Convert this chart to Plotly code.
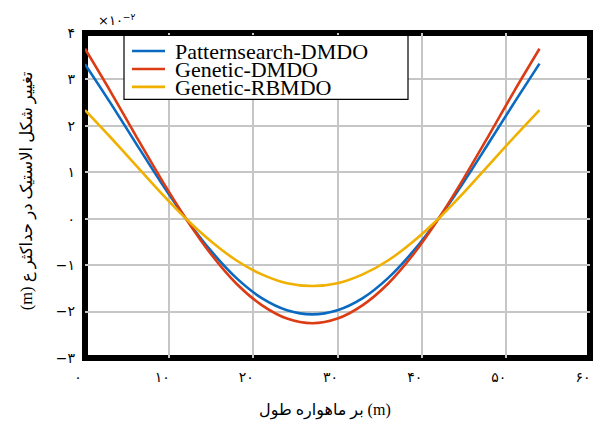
import plotly.graph_objects as go

# ---- data (values in units of 1e-2 m) ----
x_m = [0, 3, 6, 9, 12, 15, 18, 21, 24, 27, 30, 33, 36, 39, 42, 45, 48, 51, 54]
series_names = ["Patternsearch-DMDO", "Genetic-DMDO", "Genetic-RBMDO"]
patternsearch_dmdo = [3.33, 2.50, 1.64, 0.79, 0.00, -0.70, -1.28, -1.71, -1.97, -2.06,
                      -1.97, -1.71, -1.28, -0.70, 0.00, 0.79, 1.64, 2.50, 3.34]
genetic_dmdo = [3.66, 2.75, 1.80, 0.87, 0.00, -0.77, -1.40, -1.86, -2.15, -2.25,
                -2.15, -1.86, -1.40, -0.77, 0.00, 0.87, 1.80, 2.75, 3.66]
genetic_rbmdo = [2.34, 1.76, 1.16, 0.56, 0.00, -0.49, -0.90, -1.20, -1.39, -1.45,
                 -1.39, -1.20, -0.90, -0.49, 0.00, 0.56, 1.16, 1.76, 2.34]
x_ticks = [0, 10, 20, 30, 40, 50, 60]
x_tick_labels = ["۰", "۱۰", "۲۰", "۳۰", "۴۰", "۵۰", "۶۰"]
y_ticks = [-3, -2, -1, 0, 1, 2, 3, 4]
y_tick_labels = ["−۳", "−۲", "−۱", "۰", "۱", "۲", "۳", "۴"]
x_title = "\u200eبر ماهواره طول (m)"
y_title = "(m) تغییر شکل الاستیک در حداکثر ع"
exponent_label = "×۱۰<sup>−۲</sup>"

colors = ["#0a69c0", "#dc3c14", "#f0b000"]

# ---- geometry (pixels) ----
W, H = 593, 423
L, R, T, B = 85, 590, 32.5, 358


def px(xp):
    return (xp - L) / (R - L)


def py(yp):
    return (B - yp) / (B - T)


fig = go.Figure()
for name, ys, c in zip(series_names, [patternsearch_dmdo, genetic_dmdo, genetic_rbmdo], colors):
    fig.add_trace(go.Scatter(x=x_m, y=ys, mode="lines", name=name, showlegend=False,
                             line=dict(color=c, width=2.6, shape="spline", smoothing=0.8)))

shapes = []
# thick frame (between grid and traces)
shapes.append(dict(type="rect", xref="paper", yref="paper", x0=0, x1=1, y0=0, y1=1,
                   line=dict(color="black", width=6), fillcolor="rgba(0,0,0,0)", layer="between"))
# legend box
shapes.append(dict(type="rect", xref="paper", yref="paper", x0=px(124), x1=px(408),
                   y0=py(99), y1=py(35), line=dict(color="black", width=1.2),
                   fillcolor="white", layer="above"))
leg_y = [50.5, 68.5, 86.5]
annotations = []
for name, c, yy in zip(series_names, colors, leg_y):
    shapes.append(dict(type="line", xref="paper", yref="paper", x0=px(132), x1=px(165),
                       y0=py(yy), y1=py(yy), line=dict(color=c, width=2.6), layer="above"))
    annotations.append(dict(xref="paper", yref="paper", x=px(173), y=py(yy + 0.5), text=name,
                            showarrow=False, xanchor="left", yanchor="middle",
                            height=18, valign="middle",
                            font=dict(family="Liberation Serif, Times New Roman, serif",
                                      size=22, color="black")))

annotations.append(dict(xref="paper", yref="paper", x=px(325), y=py(411), text=x_title,
                        showarrow=False, xanchor="center", yanchor="middle",
                        font=dict(family="Liberation Serif, DejaVu Sans", size=16, color="black")))
annotations.append(dict(xref="paper", yref="paper", x=px(27), y=py(191), text=y_title,
                        textangle=-90, showarrow=False, xanchor="center", yanchor="middle",
                        font=dict(family="Liberation Serif, DejaVu Sans", size=16.5, color="black")))
annotations.append(dict(xref="paper", yref="paper", x=px(96), y=py(19), text=exponent_label,
                        showarrow=False, xanchor="left", yanchor="middle",
                        font=dict(family="DejaVu Sans", size=13, color="black")))

fig.update_layout(
    width=W, height=H,
    margin=dict(l=L, r=W - R, t=T, b=H - B, pad=0),
    paper_bgcolor="white", plot_bgcolor="white",
    showlegend=False,
    shapes=shapes, annotations=annotations,
    xaxis=dict(range=[0, 60], tickvals=x_ticks, ticktext=x_tick_labels,
               showgrid=True, gridcolor="#c6c6c6", gridwidth=2, zeroline=False,
               showline=False, ticks="", ticklabelstandoff=9, ticklabelshift=-7,
               ticklabeloverflow="allow",
               tickfont=dict(family="DejaVu Sans", size=14, color="black")),
    yaxis=dict(range=[-3, 4], tickvals=y_ticks, ticktext=y_tick_labels,
               showgrid=True, gridcolor="#c6c6c6", gridwidth=2, zeroline=False,
               showline=False, ticks="", ticklabelstandoff=9,
               tickfont=dict(family="DejaVu Sans", size=14, color="black")),
)

fig.write_html("out.html")
